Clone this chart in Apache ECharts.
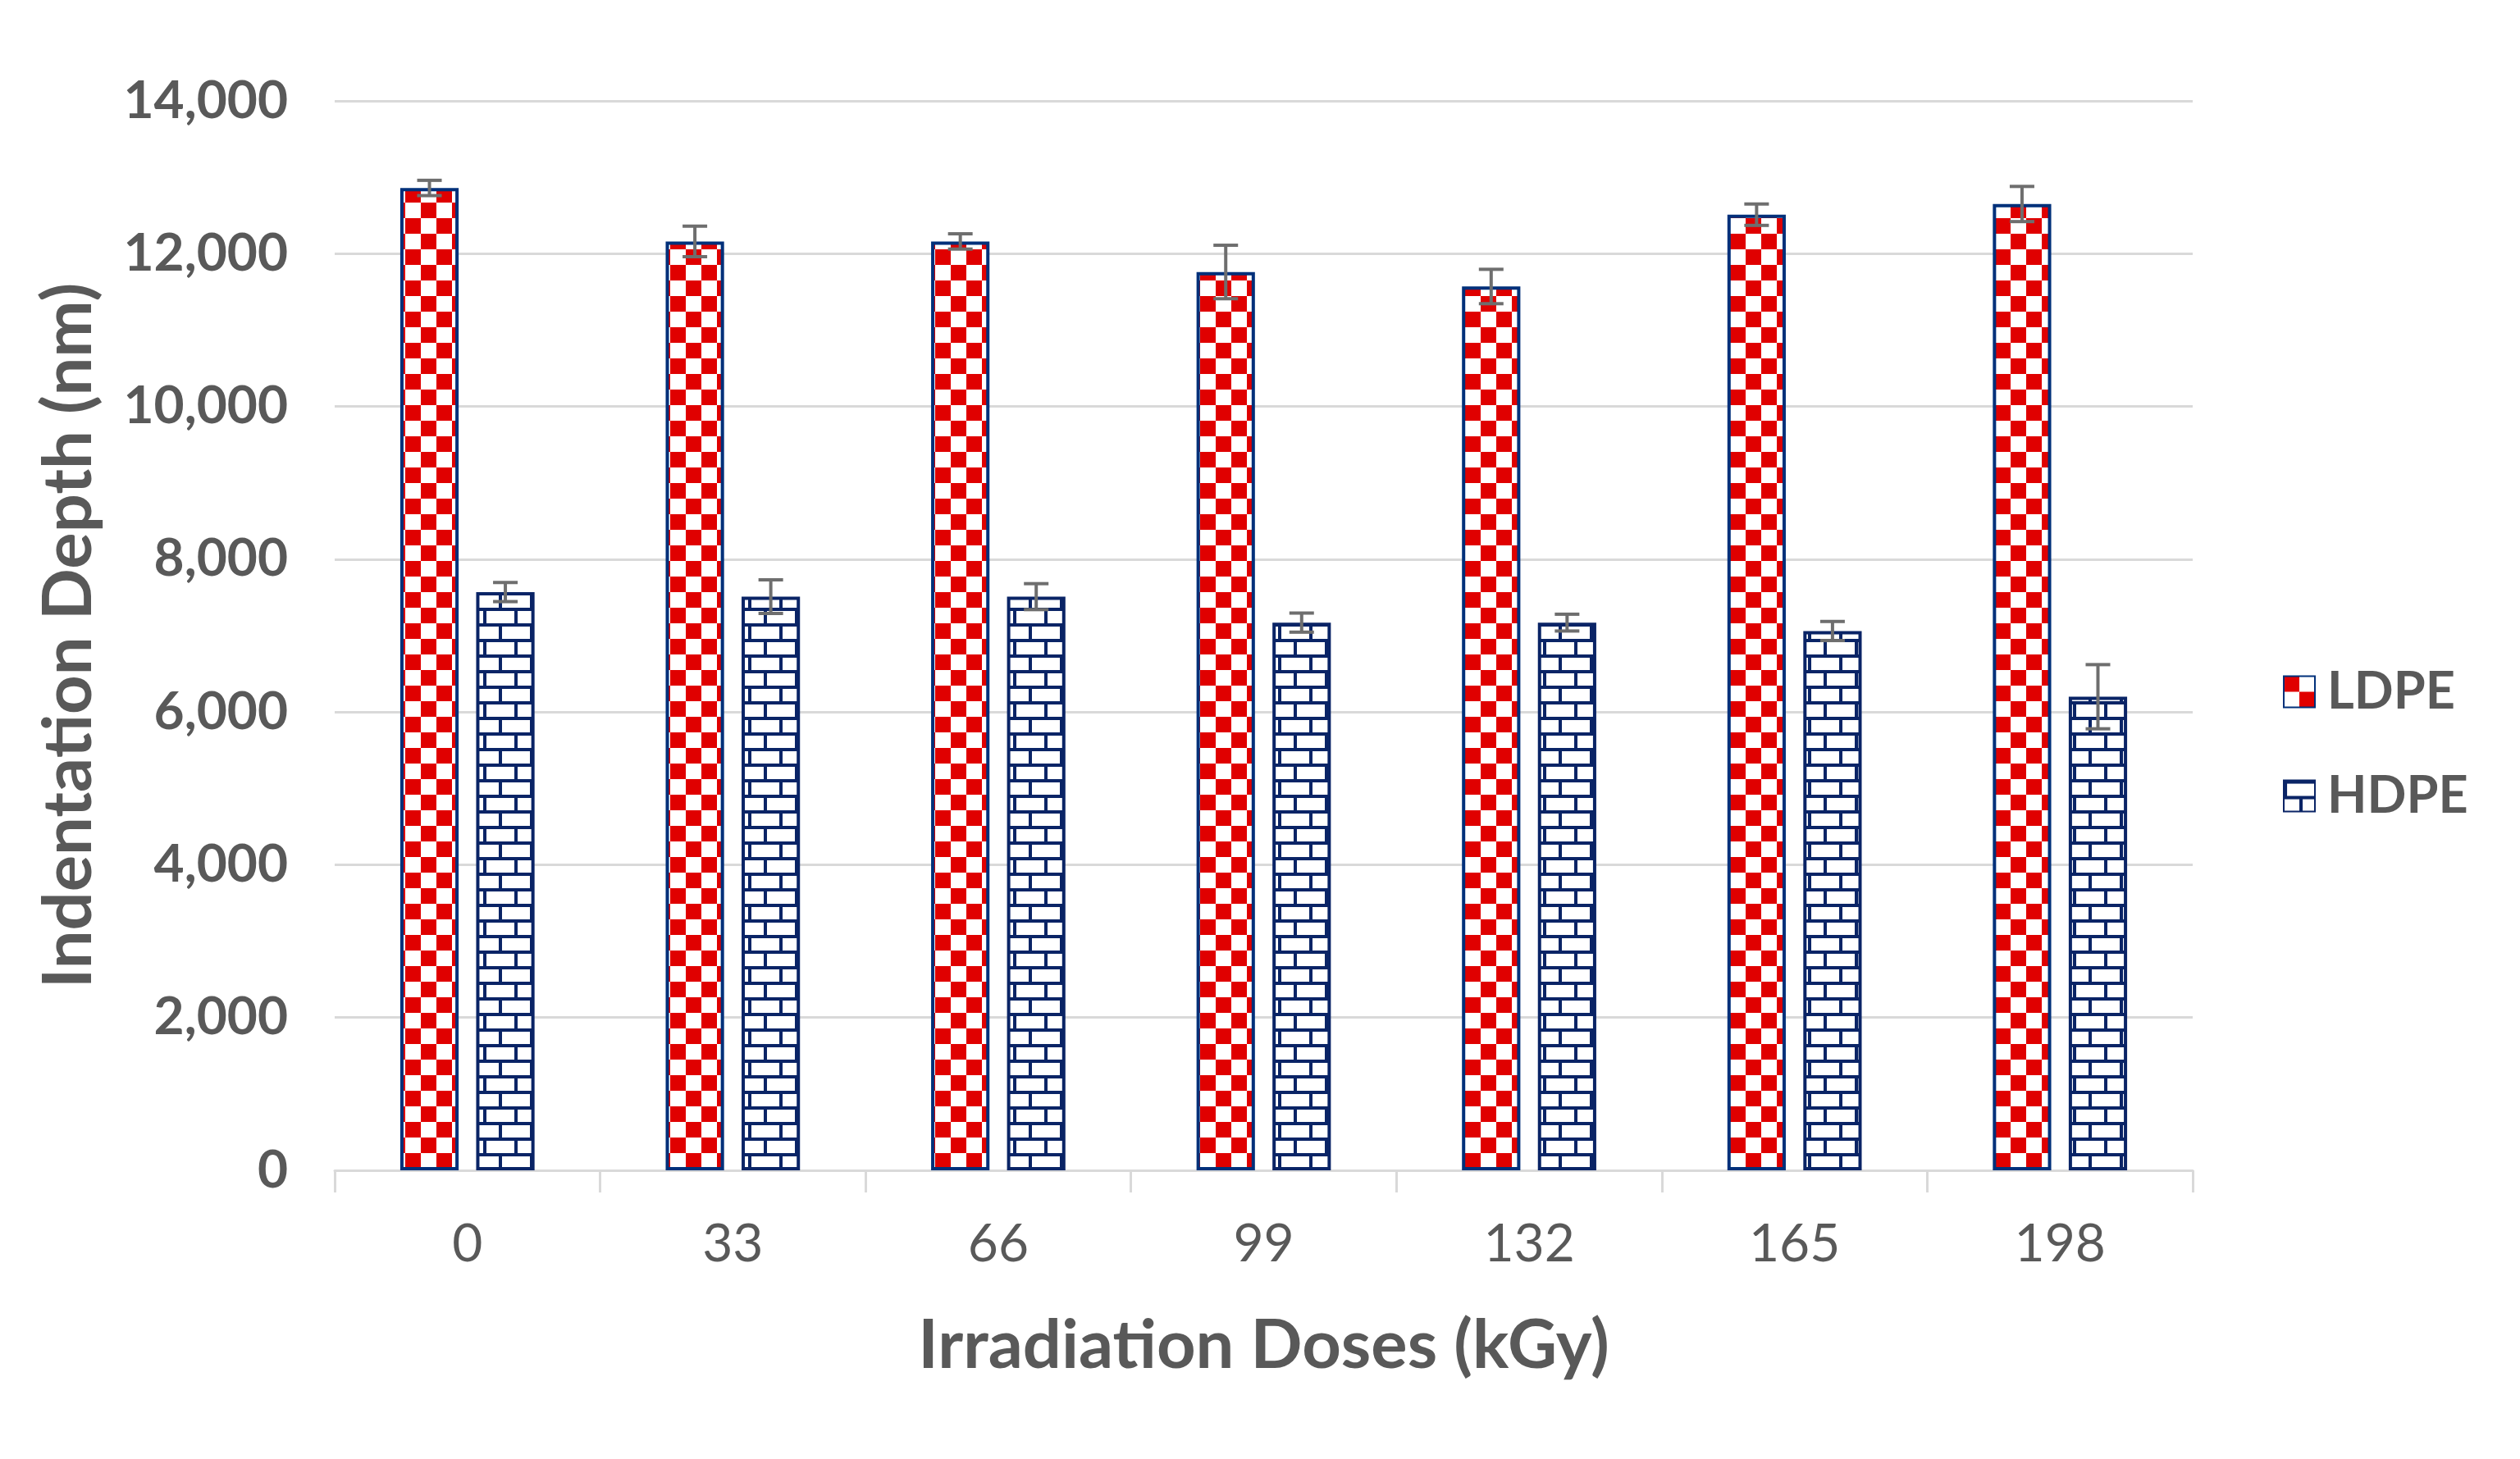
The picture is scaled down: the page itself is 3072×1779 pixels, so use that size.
<!DOCTYPE html>
<html>
<head>
<meta charset="utf-8">
<script src="https://cdn.jsdelivr.net/npm/echarts@6/dist/echarts.min.js"></script>
<style>
html,body{margin:0;padding:0;background:#fff;}
#chart{width:3072px;height:1779px;}
</style>
</head>
<body>
<div id="chart"></div>
<script>
// ---- data ----
const doses = ['0', '33', '66', '99', '132', '165', '198'];
const ldpe = [12860, 12160, 12160, 11760, 11570, 12510, 12650];
const ldpeErr = [100, 200, 100, 350, 225, 140, 230];
const hdpe = [7570, 7510, 7510, 7170, 7170, 7060, 6200];
const hdpeErr = [125, 220, 170, 125, 110, 125, 420];
const yTicks = [0, 2000, 4000, 6000, 8000, 10000, 12000, 14000];

// ---- patterns ----
function checkerPattern() {
  const s = 19, c = document.createElement('canvas');
  c.width = s * 2; c.height = s * 2;
  const g = c.getContext('2d');
  g.fillStyle = '#ffffff'; g.fillRect(0, 0, s * 2, s * 2);
  g.fillStyle = '#e00000';
  g.fillRect(0, 0, s, s); g.fillRect(s, s, s, s);
  return c;
}
function brickPattern() {
  const w = 38, h = 19, lw = 4, c = document.createElement('canvas');
  c.width = w; c.height = h * 2;
  const g = c.getContext('2d');
  g.fillStyle = '#ffffff'; g.fillRect(0, 0, w, h * 2);
  g.fillStyle = '#0a2466';
  g.fillRect(0, 0, w, lw);
  g.fillRect(0, h, w, lw);
  g.fillRect(0, 0, lw, h);
  g.fillRect(w / 2, h, lw, h);
  return c;
}

const FONT = 'Lato';
const TXT = '#595959';
const BAR_W = 0.22, GAP = 0.3;
const offset = (BAR_W * (1 + GAP)) / 2; // centre offset in band units

function errSeries(vals, errs, sign) {
  return {
    type: 'custom',
    z: 10,
    silent: true,
    data: vals.map((v, i) => [i, v, errs[i]]),
    encode: { x: 0, y: 1 },
    renderItem: function (params, api) {
      const i = api.value(0), v = api.value(1), e = api.value(2);
      const band = api.size([1, 0])[0];
      const x = api.coord([i, v])[0] + sign * offset * band;
      const yt = api.coord([i, v + e])[1];
      const yb = api.coord([i, v - e])[1];
      const cw = 15;
      const st = { stroke: '#6e6e6e', lineWidth: 4 };
      return {
        type: 'group',
        children: [
          { type: 'line', shape: { x1: x, y1: yt, x2: x, y2: yb }, style: st },
          { type: 'line', shape: { x1: x - cw, y1: yt, x2: x + cw, y2: yt }, style: st },
          { type: 'line', shape: { x1: x - cw, y1: yb, x2: x + cw, y2: yb }, style: st }
        ]
      };
    }
  };
}

const chart = echarts.init(document.getElementById('chart'));
chart.setOption({
  animation: false,
  backgroundColor: '#ffffff',
  textStyle: { fontFamily: FONT },
  grid: { left: 408, right: 399, top: 123, bottom: 352, containLabel: false },
  legend: {
    data: ['LDPE', 'HDPE'],
    orient: 'vertical',
    left: 2778,
    top: 807,
    itemWidth: 38,
    itemHeight: 38,
    itemGap: 64,
    icon: 'rect',
    textStyle: { fontFamily: FONT, fontSize: 63, fontWeight: 'bold', color: TXT, padding: [0, 0, 0, 10] }
  },
  xAxis: {
    type: 'category',
    data: doses,
    name: 'Irradiation Doses (kGy)',
    nameLocation: 'middle',
    nameGap: 173,
    nameTextStyle: { fontFamily: FONT, fontSize: 83, fontWeight: 'bold', color: TXT },
    axisLine: { lineStyle: { color: '#d9d9d9', width: 3 } },
    axisTick: { show: true, alignWithLabel: false, length: 27, lineStyle: { color: '#d9d9d9', width: 3 } },
    axisLabel: { fontFamily: FONT, fontSize: 64, color: TXT, margin: 58 }
  },
  yAxis: {
    type: 'value',
    min: yTicks[0],
    max: yTicks[yTicks.length - 1],
    interval: 2000,
    name: 'Indentation Depth (nm)',
    nameLocation: 'middle',
    nameRotate: 90,
    nameGap: 282,
    nameTextStyle: { fontFamily: FONT, fontSize: 83, fontWeight: 'bold', color: TXT },
    axisLine: { show: false },
    axisTick: { show: false },
    splitLine: { lineStyle: { color: '#d9d9d9', width: 3 } },
    axisLabel: {
      fontFamily: FONT, fontSize: 64, fontWeight: 'bold', color: TXT, margin: 57,
      formatter: v => v.toLocaleString('en-US')
    }
  },
  series: [
    {
      name: 'LDPE', type: 'bar', data: ldpe,
      barWidth: (BAR_W * 100) + '%', barGap: (GAP * 100) + '%',
      itemStyle: { color: { image: checkerPattern(), repeat: 'repeat' }, borderColor: '#00307a', borderWidth: 4 }
    },
    {
      name: 'HDPE', type: 'bar', data: hdpe,
      barWidth: (BAR_W * 100) + '%', barGap: (GAP * 100) + '%',
      itemStyle: { color: { image: brickPattern(), repeat: 'repeat' }, borderColor: '#0a2466', borderWidth: 4 }
    },
    errSeries(ldpe, ldpeErr, -1),
    errSeries(hdpe, hdpeErr, 1)
  ]
});
</script>
</body>
</html>
